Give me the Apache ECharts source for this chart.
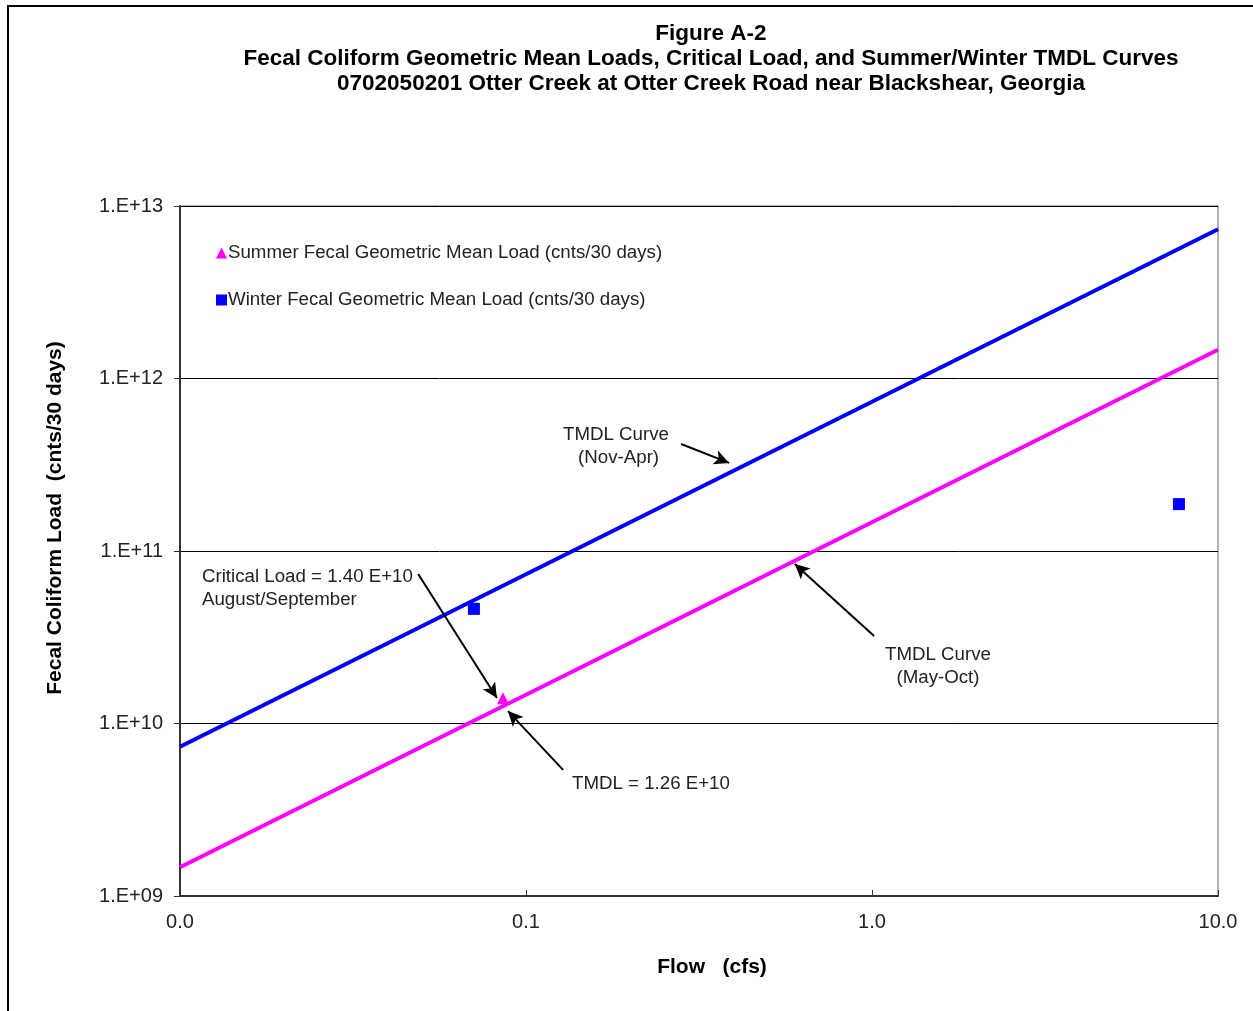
<!DOCTYPE html>
<html>
<head>
<meta charset="utf-8">
<script src="https://cdn.jsdelivr.net/npm/echarts@6/dist/echarts.min.js"></script>
<style>html,body{margin:0;padding:0;background:#fff;}#c{width:1253px;height:1011px;}</style>
</head>
<body>
<div id="c"></div>
<script>
// ---- data ----
var titleLines = ['Figure A-2',
  'Fecal Coliform Geometric Mean Loads, Critical Load, and Summer/Winter TMDL Curves',
  '0702050201 Otter Creek at Otter Creek Road near Blackshear, Georgia'];
var flowEnds = [0.01, 10];                 // cfs
var winterTmdl = [7.34e9, 7.34e12];        // TMDL curve Nov-Apr
var summerTmdl = [1.468e9, 1.468e12];      // TMDL curve May-Oct
var summerFlow = [0.0858];
var summerLoad = [1.40e10];
var winterFlow = [0.0707, 7.71];
var winterLoad = [4.62e10, 1.87e11];
var xTicks = [0.01, 0.1, 1, 10];
var yTicks = [1e9, 1e10, 1e11, 1e12, 1e13];
// annotation arrows (data coordinates: start -> end)
var arrowFrom = [[0.2806, 4.17e11], [0.0488, 7.36e10], [1.014, 3.22e10], [0.128, 5.38e9]];
var arrowTo   = [[0.3865, 3.24e11], [0.0824, 1.406e10], [0.598, 8.41e10], [0.0887, 1.18e10]];

function pairs(xs, ys){ return xs.map(function(x,i){ return [x, ys[i]]; }); }

var chart = echarts.init(document.getElementById('c'), null, {renderer:'canvas'});
var FONT = 'Liberation Sans, Arial, sans-serif';
var txt = '#222';

var option = {
  backgroundColor: '#fff',
  animation: false,
  title: {
    text: titleLines.join('\n'),
    left: 706, top: 16, textAlign: 'center',
    textStyle: {fontFamily: FONT, fontWeight: 'bold', fontSize: 22.5, lineHeight: 25, color: '#000'}
  },
  grid: {left: 180, right: 35, top: 206, bottom: 115, show: true, borderColor: '#999', borderWidth: 1.5, containLabel: false},
  legend: {
    orient: 'vertical', left: 211, top: 238, itemGap: 27,
    itemWidth: 11, itemHeight: 11,
    textStyle: {fontFamily: FONT, fontSize: 18.7, color: txt, padding: [0,0,0,-4], lineHeight: 20},
    data: [
      {name: 'Summer Fecal Geometric Mean Load (cnts/30 days)', icon: 'triangle', itemStyle: {color: '#FF00FF', opacity: 1}},
      {name: 'Winter Fecal Geometric Mean Load (cnts/30 days)', icon: 'rect', itemStyle: {color: '#0000FF', opacity: 1}}
    ]
  },
  xAxis: {
    type: 'log', logBase: 10, min: 0.01, max: 10,
    axisLine: {show: true, onZero: false, lineStyle: {color: '#333', width: 2}},
    axisTick: {show: true, inside: true, length: 6, lineStyle: {color: '#333'}},
    splitLine: {show: false},
    minorTick: {show: false},
    axisLabel: {fontFamily: FONT, fontSize: 20, color: txt, margin: 16,
      formatter: function(v){ return (+v).toFixed(1); }}
  },
  yAxis: {
    type: 'log', logBase: 10, min: 1e9, max: 1e13,
    axisLine: {show: true, onZero: false, lineStyle: {color: '#333', width: 2}},
    axisTick: {show: true, inside: false, length: 6, lineStyle: {color: '#333'}},
    splitLine: {show: true, lineStyle: {color: '#000', width: 1}},
    axisLabel: {fontFamily: FONT, fontSize: 20, color: txt, margin: 17,
      formatter: function(v){ var e = Math.round(Math.log10(v)); return '1.E+' + (e < 10 ? '0' + e : e); }}
  },
  series: [
    {name: 'TMDL Curve (Nov-Apr)', type: 'line', data: pairs(flowEnds, winterTmdl), showSymbol: false, symbol: 'none',
      lineStyle: {color: '#0000FF', width: 4}, z: 3},
    {name: 'TMDL Curve (May-Oct)', type: 'line', data: pairs(flowEnds, summerTmdl), showSymbol: false, symbol: 'none',
      lineStyle: {color: '#FF00FF', width: 4}, z: 3,
      markLine: {
        silent: true, symbol: ['none', 'arrow'], symbolSize: [11, 15],
        lineStyle: {color: '#000', width: 2, type: 'solid'},
        label: {show: false},
        data: arrowFrom.map(function(f, i){ return [{coord: f}, {coord: arrowTo[i]}]; })
      }},
    {name: 'Summer Fecal Geometric Mean Load (cnts/30 days)', type: 'scatter', symbol: 'triangle', symbolSize: 12,
      itemStyle: {color: '#FF00FF', opacity: 1}, data: pairs(summerFlow, summerLoad), z: 4},
    {name: 'Winter Fecal Geometric Mean Load (cnts/30 days)', type: 'scatter', symbol: 'rect', symbolSize: 12,
      itemStyle: {color: '#0000FF', opacity: 1}, data: pairs(winterFlow, winterLoad), z: 4}
  ],
  graphic: [
    {type: 'rect', shape: {x: 8, y: 6, width: 1400, height: 1200}, style: {fill: 'none', stroke: '#000', lineWidth: 2}, silent: true},
    {type: 'text', x: 55, y: 518, rotation: Math.PI/2, style: {text: 'Fecal Coliform Load  (cnts/30 days)', font: 'bold 21px ' + FONT, fill: '#000', align: 'center', verticalAlign: 'middle'}},
    {type: 'text', x: 712, y: 967, style: {text: 'Flow   (cfs)', font: 'bold 21px ' + FONT, fill: '#000', align: 'center', verticalAlign: 'middle'}},
    {type: 'text', x: 616, y: 446, style: {text: 'TMDL Curve\n (Nov-Apr)', font: '18.7px ' + FONT, fill: txt, align: 'center', verticalAlign: 'middle', lineHeight: 23}},
    {type: 'text', x: 202, y: 588, style: {text: 'Critical Load = 1.40 E+10\nAugust/September', font: '18.7px ' + FONT, fill: txt, align: 'left', verticalAlign: 'middle', lineHeight: 23}},
    {type: 'text', x: 938, y: 666, style: {text: 'TMDL Curve\n(May-Oct)', font: '18.7px ' + FONT, fill: txt, align: 'center', verticalAlign: 'middle', lineHeight: 23}},
    {type: 'text', x: 572, y: 784, style: {text: 'TMDL = 1.26 E+10', font: '18.7px ' + FONT, fill: txt, align: 'left', verticalAlign: 'middle'}}
  ]
};
chart.setOption(option);
</script>
</body>
</html>
